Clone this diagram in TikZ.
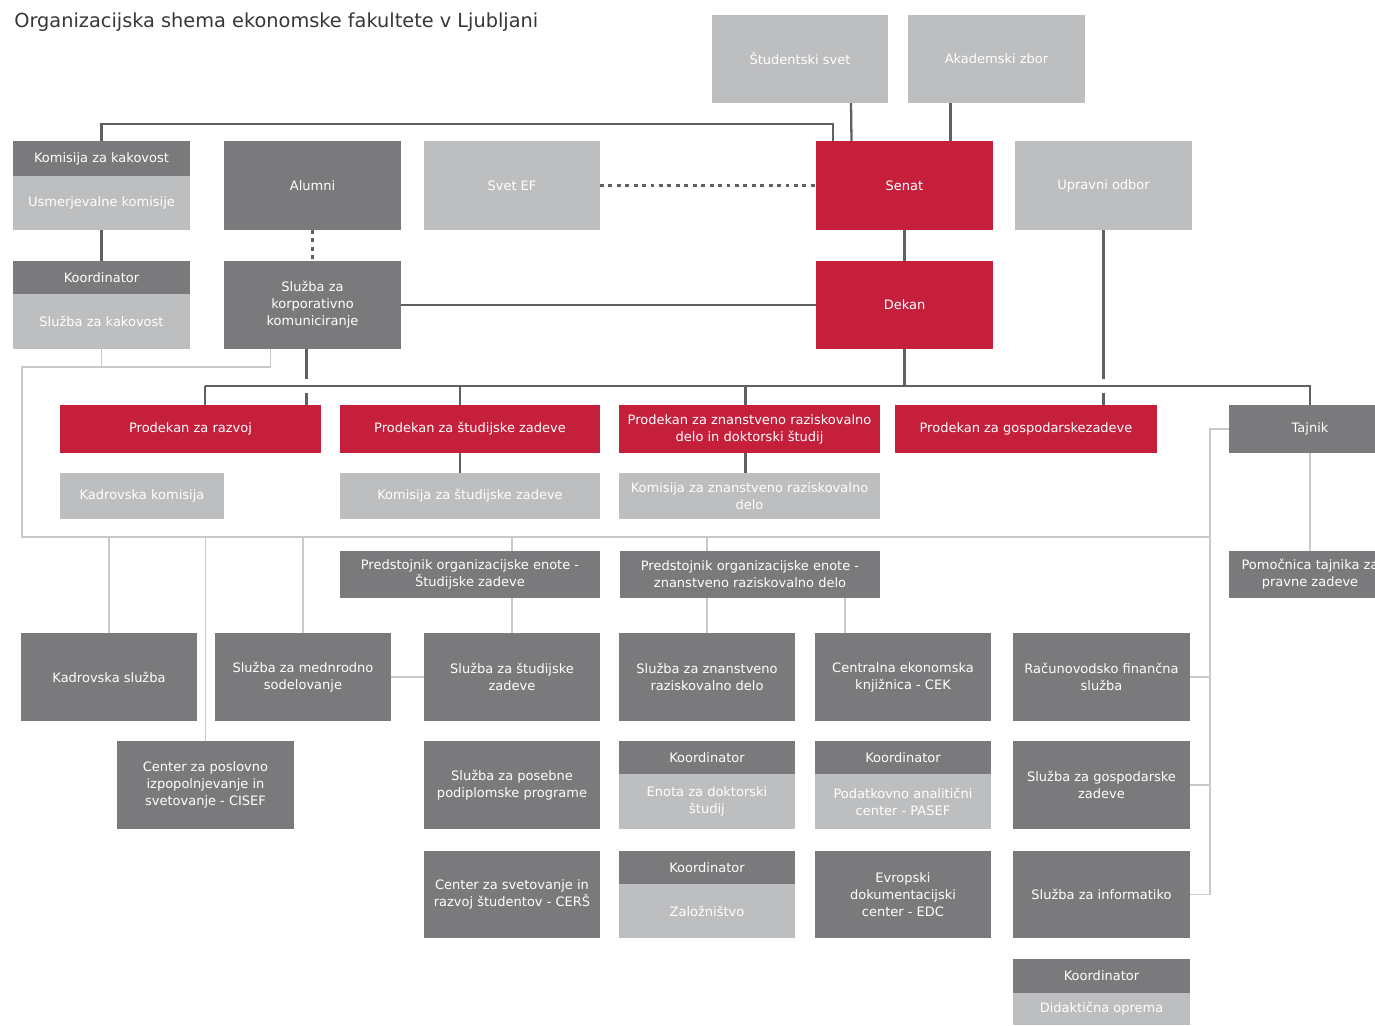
\documentclass[tikz,border=0pt]{standalone}
\usepackage{fontspec}
\setmainfont{DejaVu Sans}
\usepackage{xcolor}
\usetikzlibrary{positioning,calc}

\definecolor{rdeca}{RGB}{197,31,59}
\definecolor{temna}{RGB}{122,122,124}
\definecolor{svetla}{RGB}{189,190,192}
\definecolor{crta}{RGB}{96,96,98}
\definecolor{tcrta}{RGB}{200,201,203}
\definecolor{naslovc}{RGB}{55,55,57}

\begin{document}
\begin{tikzpicture}[x=0.02cm,y=-0.02cm,
	enota/.style={inner sep=1pt, outer sep=0pt, text=white, align=center, anchor=north west, font=\fontsize{7.4}{9.6}\selectfont},
	rd/.style={enota, fill=rdeca},
	tm/.style={enota, fill=temna},
	sv/.style={enota, fill=svetla},
	vel/.style 2 args={minimum width=#1*0.02cm, minimum height=#2*0.02cm},
	vez/.style={draw=crta, line width=1.3pt},
	tanka/.style={draw=tcrta, line width=1.1pt},
	pike/.style={draw=crta, line width=1.5pt, dash pattern=on 2.2pt off 2.6pt}]
		\useasboundingbox (0,0) rectangle (1375,1025);
		\clip (0,0) rectangle (1375,1025);
		% 绘制标题
		\node[anchor=west, inner sep=0pt, text=naslovc, font=\fontsize{11}{13}\selectfont] (naslov) at (14,22) {Organizacijska shema ekonomske fakultete v Ljubljani};
		% 绘制方框
		\node[sv, vel={176}{88}] (ss) at (712,15) {Študentski svet};
		\node[sv, vel={177}{88}] (az) at (908,15) {Akademski zbor};
		\node[tm, vel={177}{35}] (komkak) at (13,141) {Komisija za kakovost};
		\node[sv, vel={177}{54}, below=0pt of komkak] (usmer) {Usmerjevalne komisije};
		\node[tm, vel={177}{89}] (alumni) at (224,141) {Alumni};
		\node[sv, vel={176}{89}] (svetef) at (424,141) {Svet EF};
		\node[rd, vel={177}{89}] (senat) at (816,141) {Senat};
		\node[sv, vel={177}{89}] (uo) at (1015,141) {Upravni odbor};
		\node[tm, vel={177}{33}] (koord1) at (13,261) {Koordinator};
		\node[sv, vel={177}{55}, below=0pt of koord1] (kakov) {Služba za kakovost};
		\node[tm, vel={177}{88}] (korp) at (224,261) {Služba za\\korporativno\\komuniciranje};
		\node[rd, vel={177}{88}] (dekan) at (816,261) {Dekan};
		\node[rd, vel={261}{48}] (prrazvoj) at (60,405) {Prodekan za razvoj};
		\node[rd, vel={260}{48}] (prstud) at (340,405) {Prodekan za študijske zadeve};
		\node[rd, vel={261}{48}] (przn) at (619,405) {Prodekan za znanstveno raziskovalno\\delo in doktorski študij};
		\node[rd, vel={262}{48}] (prgosp) at (895,405) {Prodekan za gospodarskezadeve};
		\node[tm, vel={162}{48}] (tajnik) at (1229,405) {Tajnik};
		\node[sv, vel={164}{46}] (kadkom) at (60,473) {Kadrovska komisija};
		\node[sv, vel={260}{46}] (komstud) at (340,473) {Komisija za študijske zadeve};
		\node[sv, vel={261}{46}] (komzn) at (619,473) {Komisija za znanstveno raziskovalno\\delo};
		\node[tm, vel={260}{47}] (predst1) at (340,551) {Predstojnik organizacijske enote -\\Študijske zadeve};
		\node[tm, vel={260}{47}] (predst2) at (620,551) {Predstojnik organizacijske enote -\\znanstveno raziskovalno delo};
		\node[tm, vel={162}{47}] (pomoc) at (1229,551) {Pomočnica tajnika za\\pravne zadeve};
		\node[tm, vel={176}{88}] (kadsl) at (21,633) {Kadrovska služba};
		\node[tm, vel={176}{88}] (mednar) at (215,633) {Služba za mednrodno\\sodelovanje};
		\node[tm, vel={176}{88}] (sluzstud) at (424,633) {Služba za študijske\\zadeve};
		\node[tm, vel={176}{88}] (sluzzn) at (619,633) {Služba za znanstveno\\raziskovalno delo};
		\node[tm, vel={176}{88}] (cek) at (815,633) {Centralna ekonomska\\knjižnica - CEK};
		\node[tm, vel={177}{88}] (racun) at (1013,633) {Računovodsko finančna\\služba};
		\node[tm, vel={177}{88}] (cisef) at (117,741) {Center za poslovno\\izpopolnjevanje in\\svetovanje - CISEF};
		\node[tm, vel={176}{88}] (posebne) at (424,741) {Služba za posebne\\podiplomske programe};
		\node[tm, vel={176}{33}] (koord2) at (619,741) {Koordinator};
		\node[sv, vel={176}{55}, below=0pt of koord2] (doktor) {Enota za doktorski\\študij};
		\node[tm, vel={176}{33}] (koord3) at (815,741) {Koordinator};
		\node[sv, vel={176}{55}, below=0pt of koord3] (pasef) {Podatkovno analitični\\center - PASEF};
		\node[tm, vel={177}{88}] (gospsl) at (1013,741) {Služba za gospodarske\\zadeve};
		\node[tm, vel={176}{87}] (cers) at (424,851) {Center za svetovanje in\\razvoj študentov - CERŠ};
		\node[tm, vel={176}{33}] (koord4) at (619,851) {Koordinator};
		\node[sv, vel={176}{54}, below=0pt of koord4] (zalozn) {Založništvo};
		\node[tm, vel={176}{87}] (edc) at (815,851) {Evropski\\dokumentacijski\\center - EDC};
		\node[tm, vel={177}{87}] (inform) at (1013,851) {Služba za informatiko};
		\node[tm, vel={177}{34}] (koord5) at (1013,959) {Koordinator};
		\node[sv, vel={177}{32}, below=0pt of koord5] (didakt) {Didaktična oprema};
		% 绘制连线
		\coordinate (vrh) at (833,124);
		\draw[vez] (komkak.north) |- (vrh) -- (vrh |- senat.north);
		\draw[vez] ($(ss.south)+(51,0)$) -- ($(senat.north)+(-53,0)$);
		\draw[vez] ($(az.south)+(-46,0)$) -- ($(senat.north)+(46,0)$);
		\draw[pike] (svetef) -- (senat);
		\draw[vez] (usmer) -- (koord1);
		\draw[pike] (alumni) -- (korp);
		\draw[vez] (senat) -- (dekan);
		\draw[vez] (korp) -- (dekan);
		\coordinate (busL) at (205,386);
		\coordinate (busR) at (1310,386);
		\draw[vez] (dekan.south) -- (dekan.south |- busL);
		\draw[vez] ($(korp.south)+(-6,0)$) coordinate (k1) -- (k1 |- prrazvoj.north);
		\draw[vez] (uo.south) -- (uo.south |- prgosp.north);
		\fill[white] ($(k1 |- busL)+(-3,-7)$) rectangle ($(k1 |- busL)+(3,7)$);
		\fill[white] ($(uo.south |- busL)+(-3,-7)$) rectangle ($(uo.south |- busL)+(3,7)$);
		\draw[vez] (busL) -- (busR) -- (tajnik.north);
		\draw[vez] (busL) -- (busL |- prrazvoj.north);
		\draw[vez] ($(prstud.north)+(-10,0)$) coordinate (p2) -- (p2 |- busL);
		\draw[vez] ($(przn.north)+(-4,0)$) coordinate (p3) -- (p3 |- busL);
		\draw[vez] ($(prstud.south)+(-10,0)$) coordinate (p4) -- (p4 |- komstud.north);
		\draw[vez] ($(przn.south)+(-4,0)$) coordinate (p5) -- (p5 |- komzn.north);
		% 绘制细线
		\coordinate (lz) at (22,367);
		\coordinate (ld) at (22,537);
		\coordinate (dd) at (1210,537);
		\draw[tanka] (kakov.south) -- (kakov.south |- lz);
		\draw[tanka] ($(korp.south)+(-42,0)$) coordinate (k2) -- (k2 |- lz) -- (lz) -- (ld) -- (dd);
		\draw[tanka] (tajnik.west) -- (tajnik.west -| dd) -- (inform.east -| dd) -- (inform.east);
		\foreach \n in {racun,gospsl}
			\draw[tanka] (\n.east) -- (\n.east -| dd);
		\foreach \n in {kadsl,cisef,mednar}
			\draw[tanka] (\n.north) -- (\n.north |- ld);
		\draw[tanka] (sluzstud.north) -- (sluzstud.north |- predst1.south);
		\draw[tanka] (sluzstud.north |- predst1.north) -- (sluzstud.north |- ld);
		\draw[tanka] (sluzzn.north) -- (sluzzn.north |- predst2.south);
		\draw[tanka] (sluzzn.north |- predst2.north) -- (sluzzn.north |- ld);
		\draw[tanka] ($(predst2.south)+(95,0)$) coordinate (p6) -- (p6 |- cek.north);
		\draw[tanka] (mednar) -- (sluzstud);
		\draw[tanka] (tajnik) -- (pomoc);
	\end{tikzpicture}
\end{document}
